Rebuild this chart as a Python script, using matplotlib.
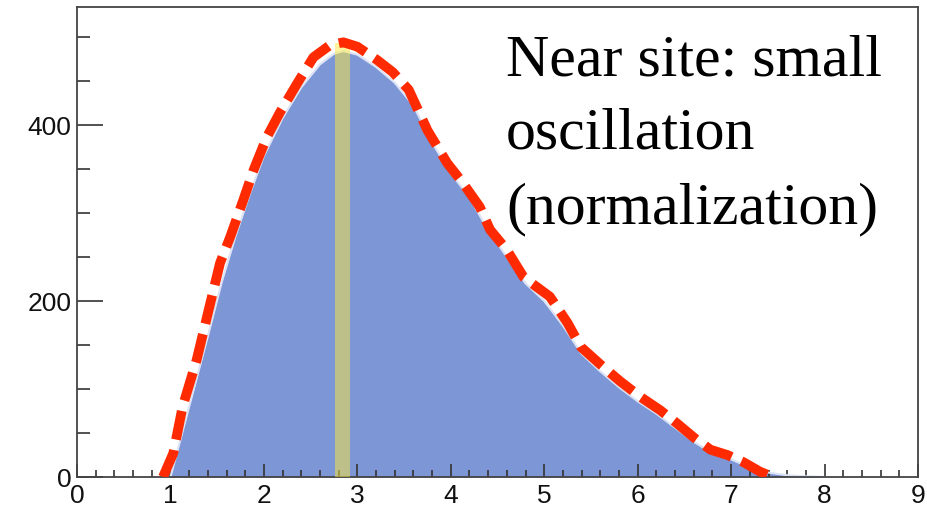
import numpy as np
import matplotlib
matplotlib.use("Agg")
import matplotlib.pyplot as plt
from matplotlib.ticker import MultipleLocator

plt.rcParams["font.family"] = ["Liberation Sans", "DejaVu Sans"]

# prompt energy spectrum at the near site (expected, no-oscillation)
spec_x = [1.00, 1.10, 1.25, 1.40, 1.55, 1.70, 1.85, 2.00, 2.20, 2.40, 2.60, 2.75,
          2.85, 3.00, 3.20, 3.40, 3.60, 3.80, 4.00, 4.20, 4.40, 4.60, 4.80, 5.00,
          5.20, 5.40, 5.60, 5.80, 6.00, 6.20, 6.40, 6.60, 6.80, 7.00, 7.20, 7.40,
          7.60, 7.80, 8.00]
spec_y = [0, 40, 100, 160, 222, 275, 322, 365, 408, 443, 469, 481,
          484, 480, 466, 448, 422, 380, 345, 318, 280, 250, 220, 200,
          172, 140, 120, 102, 86, 72, 56, 40, 27, 20, 11, 5,
          2, 0.8, 0]

# measured spectrum (dashed red)
meas_x = [0.92, 1.03, 1.13, 1.28, 1.40, 1.53, 1.64, 1.78, 1.89, 2.03, 2.17, 2.36,
          2.53, 2.71, 2.85, 3.00, 3.21, 3.38, 3.55, 3.75, 3.96, 4.13, 4.31, 4.42,
          4.60, 4.78, 4.92, 5.06, 5.25, 5.39, 5.60, 5.81, 6.03, 6.24, 6.42, 6.60,
          6.78, 6.96, 7.13, 7.31, 7.45]
meas_y = [0, 27, 80, 133, 186, 243, 273, 315, 349, 386, 414, 448,
          477, 491, 494, 489, 474, 460, 440, 394, 357, 334, 307, 281,
          258, 227, 216, 205, 175, 148, 128, 109, 91, 76, 61, 45,
          31, 25, 17, 6, 0]

# highlighted energy bin
bin_lo, bin_hi = 2.76, 2.92
bin_top = 493

text_lines = ["Near site: small", "oscillation", "(normalization)"]

fig = plt.figure(figsize=(9.27, 5.08), dpi=100)
ax = fig.add_axes([0.0831, 0.061, 0.9072, 0.925])

ax.fill_between(spec_x, spec_y, 0, color="#7c96d6", lw=0, zorder=1)
ax.plot(spec_x, spec_y, color="#dbe3f5", lw=1.5, zorder=2)
ax.fill_between([bin_lo, bin_hi], [bin_top, bin_top], 0, color="#ffeb3c",
                alpha=0.5, lw=0, zorder=3)
ax.plot(meas_x, meas_y, color="#ff2a00", lw=7, dashes=(3.0, 1.1),
        dash_capstyle="butt", zorder=4)

ax.set_xlim(0, 9)
ax.set_ylim(0, 534)
ax.xaxis.set_major_locator(MultipleLocator(1))
ax.xaxis.set_minor_locator(MultipleLocator(0.2))
ax.yaxis.set_major_locator(MultipleLocator(200))
ax.yaxis.set_minor_locator(MultipleLocator(50))

ax.tick_params(axis="x", which="major", direction="in", length=9.5, width=1.2,
               color="#333333", pad=5, labelsize=19, labelcolor="#111111")
ax.tick_params(axis="x", which="minor", direction="in", length=5, width=1.2,
               color="#333333")
ax.tick_params(axis="y", which="major", direction="in", length=19, width=1.2,
               color="#333333", pad=4, labelsize=19, labelcolor="#111111")
ax.tick_params(axis="y", which="minor", direction="in", length=9.5, width=1.2,
               color="#333333")
for sp in ax.spines.values():
    sp.set_color("#444444")
    sp.set_linewidth(1.3)

for i, line in enumerate(text_lines):
    fig.text(506 / 927, 1 - (75 + 74 * i) / 508, line, family="Liberation Serif",
             fontsize=43, va="baseline", ha="left", color="black")

fig.savefig("out.png", dpi=100)
